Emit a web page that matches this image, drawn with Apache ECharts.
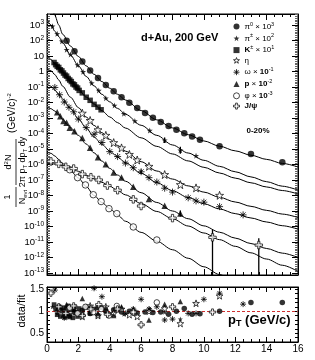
<!DOCTYPE html>
<html><head><meta charset="utf-8">
<script src="https://cdn.jsdelivr.net/npm/echarts@6/dist/echarts.min.js"></script>
<style>html,body{margin:0;padding:0;background:#fff}#c{width:315px;height:360px}</style>
</head><body><div id="c"></div>
<script>
// ---- values (top panel: log10 of the yield) ----
const fitPt   = [0,0.25,0.5,0.75,1,1.5,2,2.5,3,3.5,4,4.5,5,6,7,8,9,10,11,12,13,14,15,16];
const pi0Fit  = [5.3,4.45,3.62,3.0,2.4,1.64,0.97,0.36,-0.18,-0.65,-1.08,-1.47,-1.84,-2.52,-3.12,-3.64,-4.08,-4.48,-4.82,-5.12,-5.4,-5.67,-5.93,-6.16];
const pipmFit = [3.35,3.0,2.6,2.25,1.85,1.06,0.37,-0.32,-0.93,-1.47,-1.96,-2.38,-2.76,-3.47,-4.12,-4.74,-5.26,-5.73,-6.12,-6.47,-6.8,-7.11,-7.4,-7.65];
const kFit    = [0.95,0.78,0.5,0.24,-0.03,-0.6,-1.15,-1.65,-2.1,-2.53,-2.93,-3.3,-3.65,-4.28,-4.83,-5.32,-5.77,-6.18,-6.55,-6.88,-7.18,-7.45,-7.68,-7.9];
const etaFit  = [0.2,0.05,-0.2,-0.55,-0.95,-1.66,-2.33,-2.94,-3.48,-3.95,-4.38,-4.77,-5.14,-5.82,-6.42,-6.94,-7.38,-7.78,-8.12,-8.42,-8.7,-8.96,-9.2,-9.42];
const omegaFit= [-0.8,-0.95,-1.2,-1.48,-1.78,-2.38,-3.05,-3.66,-4.23,-4.7,-5.13,-5.52,-5.89,-6.57,-7.17,-7.69,-8.13,-8.53,-8.87,-9.17,-9.45,-9.71,-9.95,-10.17];
const pFit    = [-2.3,-2.4,-2.55,-2.8,-3.1,-3.62,-4.12,-4.68,-5.25,-5.78,-6.25,-6.68,-7.08,-7.82,-8.45,-9.0,-9.5,-9.96,-10.37,-10.75,-11.1,-11.42,-11.72,-12.0];
const phiFit  = [-5.2,-5.28,-5.45,-5.68,-5.95,-6.42,-6.87,-7.42,-8.0,-8.45,-8.84,-9.26,-9.66,-10.38,-10.95,-11.5,-12.05,-12.6,-13.1,-13.6,-14.1,-14.6,-15.1,-15.6];
const jpsiFit = [-5.95,-5.95,-5.97,-6.0,-6.07,-6.22,-6.44,-6.7,-6.93,-7.15,-7.4,-7.68,-7.96,-8.52,-9.03,-9.5,-9.97,-10.42,-10.85,-11.28,-11.7,-12.1,-12.5,-12.9];

const pi0Pt   = [1.25,1.75,2.25,2.75,3.25,3.75,4.25,4.75,5.25,5.75,6.25,6.75,7.25,7.75,8.25,8.75,9.25,9.75,11,13,15];
const pi0Log  = [1.99,1.3,0.65,0.07,-0.42,-0.87,-1.28,-1.66,-2.02,-2.36,-2.68,-2.98,-3.26,-3.52,-3.76,-3.98,-4.2,-4.4,-4.82,-5.33,-5.85];
const pi0Ratio= [1.05,0.97,1.02,0.95,1.08,1.0,1.03,0.98,1.0,0.96,0.98,0.97,0.98,0.93,1.0,1.06,0.93,0.94,1.0,1.2,1.2];

const pipmPt   = [0.35,0.65,0.95,1.25,1.5,1.95,2.3,2.85,3.3,3.75,4.3,4.9,5.6,6.55,7.5,8.5,9.5];
const pipmLog  = [2.92,2.43,1.95,1.41,1.1,0.42,-0.02,-0.75,-1.22,-1.72,-2.19,-2.72,-3.19,-3.81,-4.44,-5.08,-5.43];
const pipmRatio= [1.1,0.95,1.05,0.9,1.1,0.95,1.05,1.0,1.08,0.97,1.05,0.93,1.02,1.06,0.98,0.82,1.18];

const kPt   = [0.45,0.55,0.65,0.75,0.85,0.95,1.05,1.15,1.25,1.35,1.45,1.55,1.65,1.75,1.85,1.95,2.05,2.25,2.5,2.75,3.0,3.25,3.45];
const kLog  = [0.58,0.44,0.33,0.26,0.11,0.04,-0.1,-0.23,-0.3,-0.45,-0.55,-0.65,-0.8,-0.86,-1.0,-1.07,-1.22,-1.38,-1.66,-1.86,-2.12,-2.3,-2.47];
const kRatio= [1.15,1.05,0.92,1.1,0.88,1.0,1.08,0.86,0.95,1.12,0.9,1.03,0.85,1.1,0.97,0.88,1.06,0.92,1.1,0.95,1.05,0.9,1.08];

const etaPt   = [2.25,2.75,3.25,3.75,4.25,4.75,5.25,5.75,6.5,7.5,8.5,9.5,11];
const etaLog  = [-2.69,-3.16,-3.76,-4.12,-4.59,-4.93,-5.35,-5.71,-6.12,-6.65,-7.3,-7.51,-7.99];
const etaRatio= [0.88,1.12,0.9,1.1,0.95,1.05,0.92,0.88,1.0,1.06,0.72,1.18,1.35];

const omegaPt   = [0.5,0.8,1.1,1.4,1.7,2.0,2.5,3.0,3.5,4.0,4.5,5.0,5.5,6.0,6.5,7.0,7.5,8.0,9.0,9.5,10.0,11.0,12.5];
const omegaLog  = [-1.03,-1.5,-1.97,-2.31,-2.6,-3.07,-3.62,-4.05,-4.58,-5.17,-5.49,-5.91,-6.21,-6.47,-6.85,-7.13,-7.53,-7.78,-8.15,-8.35,-8.43,-8.72,-9.25];
const omegaRatio= [1.48,1.1,0.85,0.9,1.05,0.95,1.1,1.52,1.33,0.92,1.07,0.95,1.05,1.27,1.05,1.1,0.8,0.82,0.95,0.95,1.27,1.41,1.16];

const pPt   = [0.65,0.85,1.05,1.25,1.45,1.75,2.25,2.75,3.25,3.75,4.25,4.75,5.5,6.5,7.5,8.5];
const pLog  = [-2.63,-2.88,-3.19,-3.3,-3.63,-3.85,-4.29,-4.92,-5.53,-5.98,-6.51,-6.84,-7.43,-8.23,-8.66,-9.16];
const pRatio= [1.05,1.1,0.92,1.15,0.88,1.05,1.29,1.1,0.95,1.08,0.9,1.1,1.05,0.8,1.16,1.22];

const phiPt   = [1.45,1.95,2.45,2.95,3.45,3.95,4.45,5.5,7.0];
const phiLog  = [-6.34,-6.85,-7.32,-7.95,-8.39,-8.85,-9.17,-10.03,-10.87];
const phiRatio= [1.08,0.95,1.1,0.98,1.05,0.9,1.12,0.97,1.2];

const jpsiPt   = [0.25,0.75,1.2,1.7,2.25,2.8,3.3,3.85,4.5,5.5,6.0,8.0,10.55,13.5];
const jpsiLog  = [-5.8,-5.96,-6.15,-6.26,-6.62,-6.82,-7.0,-7.36,-7.66,-8.25,-8.68,-9.46,-10.7,-11.2];
const jpsiRatio= [1.41,1.1,0.95,1.12,0.9,1.05,1.15,0.93,1.05,0.98,0.69,1.1,0.98,null];

const errPt = [7.5,8.5,6.0,8.5,10.55,13.5];
const errLo = [-4.62,-5.3,-6.62,-9.35,-13.13,-13.13];
const errHi = [-4.26,-4.86,-6.32,-8.97,-10.2,-10.76];

const xTicks = {min:0, max:16, interval:2};
const yTopRange = {min:-13.13, max:3.71};
const yRatioRange = {min:0.3, max:1.55, interval:0.1};

// ---- chart ----
const FONT = "'Liberation Sans', Arial, Helvetica, sans-serif";
const SYM = {
  star: 'path://M0,-10L2.35,-3.24L9.51,-3.09L3.8,1.24L5.88,8.09L0,4L-5.88,8.09L-3.8,1.24L-9.51,-3.09L-2.35,-3.24Z',
  aster: 'path://M0,-10L0,10M-10,0L10,0M-7.07,-7.07L7.07,7.07M-7.07,7.07L7.07,-7.07',
  cross: 'path://M-3,-10L3,-10L3,-3L10,-3L10,3L3,3L3,10L-3,10L-3,3L-10,3L-10,-3L-3,-3Z'
};
const BLACK = {color:'#000', borderColor:'#000', borderWidth:0};
const OPEN = {color:'#fff', borderColor:'#000', borderWidth:0.9};
const ASTER = {color:'#000', borderColor:'#000', borderWidth:1};
const species = [
  {name:'pi0',  pt:pi0Pt,  v:pi0Log,  r:pi0Ratio,  fit:pi0Fit,  symbol:'circle',   size:6.5, leg:5.5, style:BLACK},
  {name:'pipm', pt:pipmPt, v:pipmLog, r:pipmRatio, fit:pipmFit, symbol:SYM.star,  size:6,   leg:5,   style:BLACK},
  {name:'K',    pt:kPt,    v:kLog,    r:kRatio,    fit:kFit,    symbol:'rect',     size:5.5, leg:5,   style:BLACK},
  {name:'eta',  pt:etaPt,  v:etaLog,  r:etaRatio,  fit:etaFit,  symbol:SYM.star,  size:8,   leg:6.5, style:OPEN},
  {name:'omega',pt:omegaPt,v:omegaLog,r:omegaRatio,fit:omegaFit,symbol:SYM.aster, size:7,   leg:6,   style:ASTER},
  {name:'p',    pt:pPt,    v:pLog,    r:pRatio,    fit:pFit,    symbol:'triangle', size:6.5, leg:6,   style:BLACK},
  {name:'phi',  pt:phiPt,  v:phiLog,  r:phiRatio,  fit:phiFit,  symbol:'circle',   size:6.5, leg:5.5, style:OPEN},
  {name:'jpsi', pt:jpsiPt, v:jpsiLog, r:jpsiRatio, fit:jpsiFit, symbol:SYM.cross, size:7.5, leg:6.5, style:OPEN}
];
const pairs = (xs, ys) => xs.map((x, i) => [x, ys[i]]);

const series = [];
species.forEach(s => {
  series.push({type:'line', xAxisIndex:0, yAxisIndex:0, data:pairs(fitPt, s.fit), symbol:'none',
    smooth:0.3, smoothMonotone:'x', lineStyle:{color:'#000', width:1}, silent:true, z:2, clip:true});
});
species.forEach(s => {
  series.push({type:'scatter', name:s.name, xAxisIndex:0, yAxisIndex:0, data:pairs(s.pt, s.v),
    symbol:s.symbol, symbolSize:s.size, itemStyle:s.style, z:4, clip:true, silent:true});
});
series.push({type:'custom', xAxisIndex:0, yAxisIndex:0, silent:true, z:3, clip:true,
  data: errPt.map((x, i) => [x, errLo[i], errHi[i]]),
  renderItem: (params, api) => {
    const a = api.coord([api.value(0), api.value(1)]);
    const b = api.coord([api.value(0), api.value(2)]);
    return {type:'line', shape:{x1:a[0], y1:a[1], x2:b[0], y2:b[1]}, style:{stroke:'#000', lineWidth:1.3}};
  }});
species.forEach((s, i) => {
  const ser = {type:'scatter', name:s.name + ' ratio', xAxisIndex:2, yAxisIndex:2, data:pairs(s.pt, s.r),
    symbol:s.symbol, symbolSize:s.size * 0.85, itemStyle:s.style, z:4, clip:true, silent:true};
  if (i === 0) ser.markLine = {silent:true, symbol:'none', label:{show:false}, z:1,
    lineStyle:{color:'#d03030', type:[3,2], width:1}, data:[{yAxis:1}]};
  series.push(ser);
});

function xa(g, pos, labels) {
  return {type:'value', gridIndex:g, position:pos, min:xTicks.min, max:xTicks.max, interval:xTicks.interval,
    axisLine:{show:true, onZero:false, lineStyle:{color:'#000', width:1}},
    axisTick:{show:true, inside:true, length:g === 0 ? 6 : 5, lineStyle:{color:'#000', width:1}},
    minorTick:{show:true, splitNumber:4, length:3, lineStyle:{color:'#000', width:1}},
    splitLine:{show:false}, minorSplitLine:{show:false},
    axisLabel:{show:labels, margin:2, fontSize:10, color:'#000', fontFamily:FONT}};
}
const supRich = {
  a:{fontSize:9.5, lineHeight:12, fontFamily:FONT, color:'#000'},
  s:{fontSize:6.5, lineHeight:7, verticalAlign:'top', fontFamily:FONT, color:'#000'}
};
function yTop(pos, labels) {
  return {type:'value', gridIndex:0, position:pos, min:yTopRange.min, max:yTopRange.max, splitNumber:17,
    axisLine:{show:true, onZero:false, lineStyle:{color:'#000', width:1}},
    axisTick:{show:true, inside:true, length:6, lineStyle:{color:'#000', width:1}},
    minorTick:{show:true, splitNumber:9, length:3, lineStyle:{color:'#666', width:1}},
    splitLine:{show:false}, minorSplitLine:{show:false},
    axisLabel:{show:labels, margin:3, rich:supRich, formatter: v => {
      const n = Math.round(v);
      if (Math.abs(v - n) > 1e-6) return '';
      if (n === 0) return '{a|1}';
      if (n === 1) return '{a|10}';
      return '{a|10}{s|' + n + '}';
    }}};
}
function yRatio(pos, labels) {
  return {type:'value', gridIndex:1, position:pos, min:yRatioRange.min, max:yRatioRange.max, interval:yRatioRange.interval,
    axisLine:{show:true, onZero:false, lineStyle:{color:'#000', width:1}},
    axisTick:{show:true, inside:true, length:3, lineStyle:{color:'#000', width:1}},
    splitLine:{show:false},
    axisLabel:{show:labels, margin:3, fontSize:10, color:'#000', fontFamily:FONT, showMinLabel:false, showMaxLabel:false,
      formatter: v => Math.abs(v - 0.5) < 1e-6 ? '0.5' : Math.abs(v - 1) < 1e-6 ? '1' : Math.abs(v - 1.5) < 1e-6 ? '1.5' : ''}};
}

const LEG = {
  pi0:'{t|π}{s|0}{t| × 10}{s|3}',
  pipm:'{t|π}{s|±}{t| × 10}{s|2}',
  K:'{b|K}{s|±}{t| × 10}{s|1}',
  eta:'{t|η}',
  omega:'{t|ω × }{b|10}{s|-1}',
  p:'{b|p}{t| × }{b|10}{s|-2}',
  phi:'{t|φ × }{b|10}{s|-3}',
  jpsi:'{b|J/ψ}'
};
const legRich = {
  t:{fontSize:8, lineHeight:11, fontFamily:FONT, color:'#000'},
  b:{fontSize:8, lineHeight:11, fontWeight:'bold', fontFamily:FONT, color:'#000'},
  s:{fontSize:5.5, lineHeight:5, verticalAlign:'top', fontFamily:FONT, color:'#000'}
};
const titleRich = {
  a:{fontSize:9, lineHeight:11, fontFamily:FONT, fill:'#000'},
  s:{fontSize:6, lineHeight:6, verticalAlign:'top', fontFamily:FONT, fill:'#000'},
  b:{fontSize:6, lineHeight:6, verticalAlign:'bottom', fontFamily:FONT, fill:'#000'},
  c:{fontSize:10, lineHeight:12, fontFamily:FONT, fill:'#000'}
};

const option = {
  animation:false,
  backgroundColor:'#fff',
  grid:[
    {left:47, top:14, width:251, height:261, show:true, borderColor:'#000', borderWidth:1, backgroundColor:'rgba(0,0,0,0)'},
    {left:47, top:287, width:251, height:55, show:true, borderColor:'#000', borderWidth:1, backgroundColor:'rgba(0,0,0,0)'}
  ],
  xAxis:[xa(0,'bottom',false), xa(0,'top',false), xa(1,'bottom',true), xa(1,'top',false)],
  yAxis:[yTop('left',true), yTop('right',false), yRatio('left',true), yRatio('right',false)],
  legend:{orient:'vertical', left:233, top:21, itemWidth:6, itemHeight:6, itemGap:2.3, padding:0,
    selectedMode:false,
    data:species.map(s => ({name:s.name, icon:s.symbol, itemStyle:Object.assign({}, s.style)})),
    formatter: n => LEG[n],
    textStyle:{color:'#000', fontFamily:FONT, fontSize:8, rich:legRich}},
  graphic:[
    {type:'text', left:141, top:32, style:{text:'d+Au, 200 GeV', font:"bold 11px " + FONT, fill:'#000'}},
    {type:'text', left:246.5, top:127, style:{text:'0-20%', font:"bold 8px " + FONT, fill:'#000'}},
    {type:'text', left:228, top:314, style:{text:'{p|p}{t|T}{p| (GeV/c)}', rich:{
      p:{fontSize:13, fontWeight:'bold', lineHeight:16, fontFamily:FONT, fill:'#000'},
      t:{fontSize:9, fontWeight:'bold', lineHeight:9, verticalAlign:'bottom', fontFamily:FONT, fill:'#000'}}}},
    {type:'text', x:22, y:311, rotation:Math.PI/2, style:{text:'data/fit', font:"11px " + FONT, fill:'#000', align:'center', verticalAlign:'middle'}},
    {type:'group', x:15, y:237, rotation:Math.PI/2, children:[
      {type:'text', x:40, y:-7, style:{text:'{a|1}', rich:titleRich, align:'center', verticalAlign:'middle'}},
      {type:'line', shape:{x1:30, y1:1, x2:50, y2:1}, style:{stroke:'#000', lineWidth:0.8}},
      {type:'text', x:40, y:7.5, style:{text:'{a|N}{b|evt}', rich:titleRich, align:'center', verticalAlign:'middle'}},
      {type:'text', x:75, y:-6, style:{text:'{a|d}{s|2}{a|N}', rich:titleRich, align:'center', verticalAlign:'middle'}},
      {type:'line', shape:{x1:52, y1:1, x2:98, y2:1}, style:{stroke:'#000', lineWidth:0.8}},
      {type:'text', x:75, y:7.5, style:{text:'{a|2π p}{b|T}{a| dp}{b|T}{a| dy}', rich:titleRich, align:'center', verticalAlign:'middle'}},
      {type:'text', x:124, y:-3, style:{text:'{c|(GeV/c)}{s|-2}', rich:titleRich, align:'center', verticalAlign:'middle'}}
    ]}
  ],
  series
};
const chart = echarts.init(document.getElementById('c'), null, {renderer:'canvas', width:315, height:360});
chart.setOption(option);
</script></body></html>
